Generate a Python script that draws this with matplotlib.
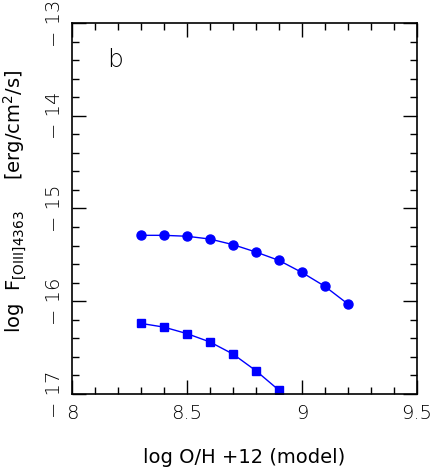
import numpy as np
import matplotlib.pyplot as plt
from matplotlib.ticker import MultipleLocator, FuncFormatter

# model abundances and fluxes
oh_circ = [8.3, 8.4, 8.5, 8.6, 8.7, 8.8, 8.9, 9.0, 9.1, 9.2]
flux_circ = [-15.29, -15.29, -15.30, -15.33, -15.39, -15.47, -15.56, -15.69, -15.84, -16.03]
oh_sq = [8.3, 8.4, 8.5, 8.6, 8.7, 8.8, 8.9]
flux_sq = [-16.24, -16.28, -16.35, -16.44, -16.57, -16.75, -16.96]

plt.rcParams['font.family'] = 'DejaVu Sans'
plt.rcParams['font.weight'] = 'light'
plt.rcParams['mathtext.default'] = 'regular'

fig = plt.figure(figsize=(4.36, 4.70), dpi=100)
ax = fig.add_axes([0.165, 0.162, 0.791, 0.789])

ax.plot(oh_circ, flux_circ, '-o', color='blue', lw=1, ms=6.5)
ax.plot(oh_sq, flux_sq, '-s', color='blue', lw=1, ms=6)

ax.set_xlim(8, 9.5)
ax.set_ylim(-17, -13)
ax.xaxis.set_major_locator(MultipleLocator(0.5))
ax.xaxis.set_minor_locator(MultipleLocator(0.1))
ax.yaxis.set_major_locator(MultipleLocator(1))
ax.yaxis.set_minor_locator(MultipleLocator(0.2))
ax.xaxis.set_major_formatter(FuncFormatter(lambda v, p: '%g' % v))
ax.yaxis.set_major_formatter(FuncFormatter(lambda v, p: '\u2212 %d' % abs(v)))
ax.tick_params(which='both', direction='in', top=True, right=True, width=1)
ax.tick_params(which='major', length=10, labelsize=14)
ax.tick_params(axis='x', which='major', pad=7)
ax.tick_params(axis='y', which='major', pad=6)
ax.tick_params(which='minor', length=5)
for lab in ax.get_yticklabels():
    lab.set_rotation(90)
    lab.set_va('center')
for s in ax.spines.values():
    s.set_linewidth(1.2)

ax.text(8.187, -13.40, 'b', fontsize=18, ha='center', va='center')
ax.set_xlabel('log O/H +12 (model)', fontsize=14, labelpad=18)
ax.set_ylabel(r'log  F$_{[OIII]4363}$     [erg/cm$^{2}$/s]', fontsize=14)
ax.yaxis.set_label_coords(-0.125, 0.52)

fig.savefig('out.png', dpi=100)
